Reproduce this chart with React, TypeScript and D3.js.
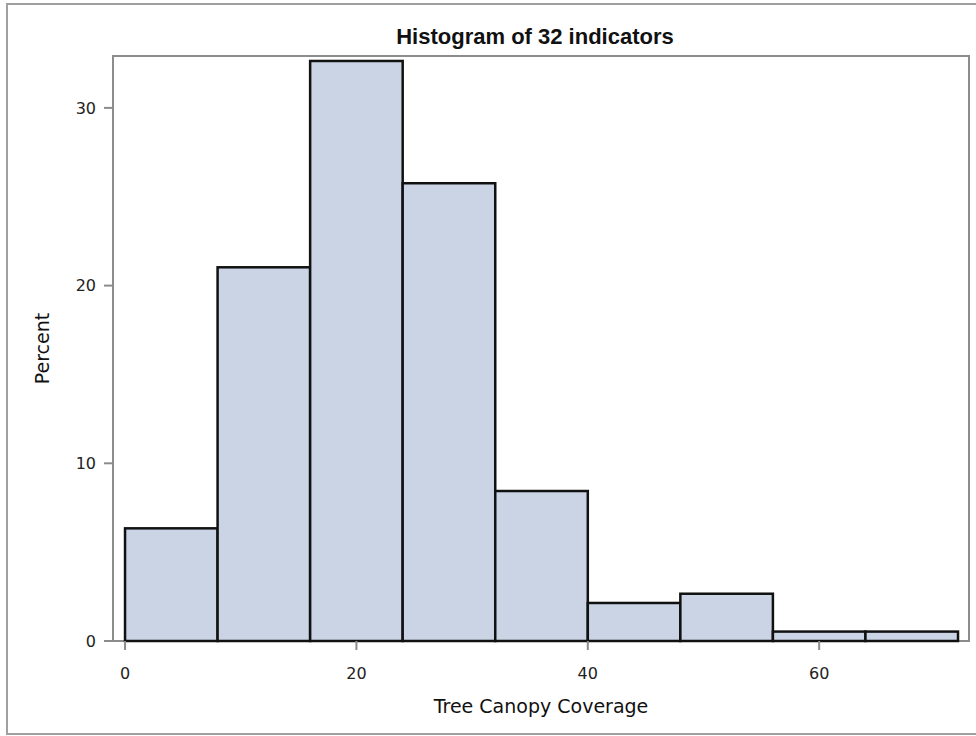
import React from "react";
import * as d3 from "d3";

const binStarts = [0, 8, 16, 24, 32, 40, 48, 56, 64];
const binWidth = 8;
const percents = [6.34, 21.03, 32.64, 25.76, 8.44, 2.14, 2.66, 0.53, 0.53];
const xTicks = [0, 20, 40, 60];
const yTicks = [0, 10, 20, 30];
const title = "Histogram of 32 indicators";
const xLabel = "Tree Canopy Coverage";
const yLabel = "Percent";

export default function App() {
  const W = 976, H = 736;
  const left = 113, right = 969, top = 56, bottom = 641;
  const x = d3.scaleLinear().domain([-1.04, 72.95]).range([left, right]);
  const y = d3.scaleLinear().domain([0, 32.92]).range([bottom, top]);
  const axisColor = "#8c8c8c";
  const font = "'DejaVu Sans', sans-serif";
  return (
    <svg width={W} height={H} style={{ position: "absolute", left: 0, top: 0, background: "#fff" }}>
      <rect x={7} y={4} width={990} height={730} fill="#fff" stroke="#a0a0a0" strokeWidth={2} />
      <text x={535} y={44} textAnchor="middle" fontFamily="'Liberation Sans', Arial, sans-serif" fontWeight="bold" fontSize={22} fill="#111">
        {title}
      </text>
      <rect x={left} y={top} width={right - left} height={bottom - top} fill="#fff" stroke={axisColor} strokeWidth={2} />
      {binStarts.map((b, i) => (
        <rect
          key={i}
          x={x(b)}
          y={y(percents[i])}
          width={x(b + binWidth) - x(b)}
          height={y(0) - y(percents[i])}
          fill="#cad4e4"
          stroke="#111"
          strokeWidth={2.5}
        />
      ))}
      {yTicks.map((t) => (
        <g key={"y" + t}>
          <line x1={left - 9} x2={left} y1={y(t)} y2={y(t)} stroke={axisColor} strokeWidth={2} />
          <text x={left - 17} y={y(t)} dy="0.36em" textAnchor="end" fontFamily={font} fontSize={16} fill="#222">
            {t}
          </text>
        </g>
      ))}
      {xTicks.map((t) => (
        <g key={"x" + t}>
          <line x1={x(t)} x2={x(t)} y1={bottom} y2={bottom + 9} stroke={axisColor} strokeWidth={2} />
          <text x={x(t)} y={679} textAnchor="middle" fontFamily={font} fontSize={16} fill="#222">
            {t}
          </text>
        </g>
      ))}
      <text x={(left + right) / 2} y={713} textAnchor="middle" fontFamily={font} fontSize={19} fill="#111">
        {xLabel}
      </text>
      <text transform={`translate(49, ${(top + bottom) / 2}) rotate(-90)`} textAnchor="middle" fontFamily={font} fontSize={19} fill="#111">
        {yLabel}
      </text>
    </svg>
  );
}
